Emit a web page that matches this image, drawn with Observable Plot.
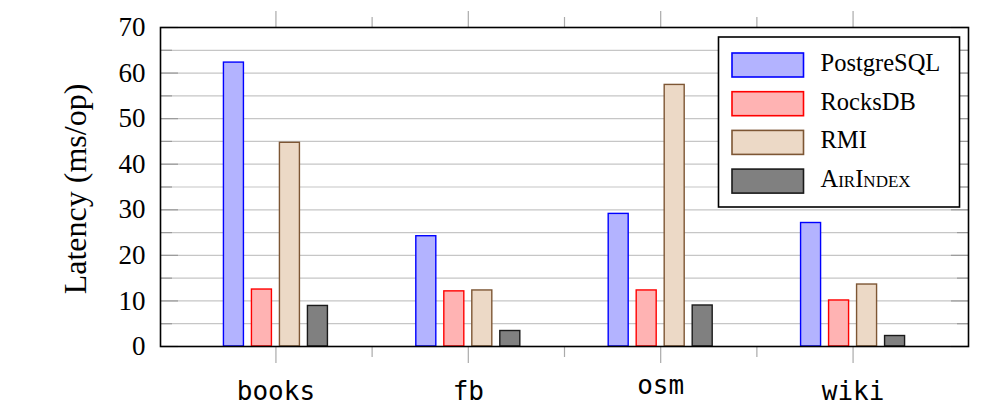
<!DOCTYPE html>
<html><head><meta charset="utf-8">
<script src="https://cdn.jsdelivr.net/npm/d3@7"></script>
<script src="https://cdn.jsdelivr.net/npm/@observablehq/plot@0.6"></script>
<style>body{margin:0;background:#fff}</style>
</head><body><div id="chart"></div>
<script>
const categories = ["books", "fb", "osm", "wiki"];
const series = ["PostgreSQL", "RocksDB", "RMI", "AirIndex"];
const postgres = [62.3, 24.2, 29.1, 27.1];
const rocksdb  = [12.5, 12.1, 12.3, 10.1];
const rmi      = [44.7, 12.3, 57.4, 13.6];
const airindex = [8.9, 3.4, 9.0, 2.3];
const yTicks = [0, 10, 20, 30, 40, 50, 60, 70];
const yMinor = [5, 15, 25, 35, 45, 55, 65];
const yLabel = "Latency (ms/op)";

const values = [postgres, rocksdb, rmi, airindex];
const fills = ["#b3b3ff", "#ffb3b3", "#ecd9c6", "#808080"];
const strokes = ["#0000ff", "#ff0000", "#7d5634", "#1a1a1a"];

const rows = categories.flatMap((c, i) => series.map((s, j) => ({category: c, ci: i + 1, series: s, sj: j, value: values[j][i]})));
const cats = categories.map((c, i) => ({category: c, ci: i + 1}));
const hasAscender = s => /[bdfhiklt]/.test(s);

const W = 994, H = 407, ML = 160, MR = 26, MT = 27, MB = 61;
const xDomain = [0.4, categories.length + 0.6];
const unit = (W - ML - MR) / (xDomain[1] - xDomain[0]);
const barW = 20 / unit, barStep = 28 / unit;
const xOf = d => d.ci + (d.sj - (series.length - 1) / 2) * barStep;
const mids = d3.range(1.5, categories.length, 1);
const gridVals = d3.range(5, 70, 5);
const serif = "'Liberation Serif', serif";
const mono = "'DejaVu Sans Mono', monospace";

const svg = Plot.plot({
  width: W, height: H,
  marginLeft: ML, marginRight: MR, marginTop: MT, marginBottom: MB,
  x: {domain: xDomain},
  y: {domain: [0, 70]},
  color: {type: "identity"},
  style: {background: "#fff", fontFamily: serif, overflow: "visible"},
  marks: [
    Plot.ruleY(gridVals, {stroke: "#c6c6c6", strokeWidth: 1.2}),
    Plot.axisY(yTicks, {anchor: "right", frameAnchor: "left", tickSize: 17, fill: "none", label: null, stroke: "#9a9a9a", strokeWidth: 1.2}),
    Plot.axisY(yMinor, {anchor: "right", frameAnchor: "left", tickSize: 11, fill: "none", label: null, stroke: "#9a9a9a", strokeWidth: 1.2}),
    Plot.axisY(yTicks, {anchor: "left", frameAnchor: "right", tickSize: 17, fill: "none", label: null, stroke: "#9a9a9a", strokeWidth: 1.2}),
    Plot.axisY(yMinor, {anchor: "left", frameAnchor: "right", tickSize: 11, fill: "none", label: null, stroke: "#9a9a9a", strokeWidth: 1.2}),
    Plot.axisX(cats.map(d => d.ci), {anchor: "top", tickSize: 17, fill: "none", label: null, stroke: "#aaaaaa", strokeWidth: 1.2}),
    Plot.axisX(mids, {anchor: "top", tickSize: 11, fill: "none", label: null, stroke: "#aaaaaa", strokeWidth: 1.2}),
    Plot.axisX(cats.map(d => d.ci), {anchor: "bottom", tickSize: 17, fill: "none", label: null, stroke: "#aaaaaa", strokeWidth: 1.2}),
    Plot.axisX(mids, {anchor: "bottom", tickSize: 11, fill: "none", label: null, stroke: "#aaaaaa", strokeWidth: 1.2}),
    Plot.rect(rows, {
      x1: d => xOf(d) - barW / 2, x2: d => xOf(d) + barW / 2,
      y1: 0, y2: "value",
      fill: d => fills[d.sj], stroke: d => strokes[d.sj], strokeWidth: 1.4
    }),
    Plot.frame({stroke: "#000", strokeWidth: 1.6}),
    Plot.axisY(yTicks, {anchor: "left", tickSize: 0, tickPadding: 15, fontSize: 27, fontFamily: serif, label: null, fill: "#000"}),
    Plot.text(cats.filter(d => hasAscender(d.category)), {x: "ci", text: "category", frameAnchor: "bottom", lineAnchor: "bottom", dy: 53, fontFamily: mono, fontSize: 26, fill: "#000"}),
    Plot.text(cats.filter(d => !hasAscender(d.category)), {x: "ci", text: "category", frameAnchor: "bottom", lineAnchor: "bottom", dy: 47, fontFamily: mono, fontSize: 26, fill: "#000"}),
    Plot.text([yLabel], {text: d => d, frameAnchor: "left", textAnchor: "middle", lineAnchor: "middle", dx: -85, dy: 2, rotate: -90, fontFamily: serif, fontSize: 32, fill: "#000"})
  ]
});

// legend box inside the plot area (top right)
const lg = d3.select(svg).append("g").attr("transform", "translate(718.5,37)");
lg.append("rect").attr("width", 241).attr("height", 170).attr("fill", "#fff").attr("stroke", "#000").attr("stroke-width", 1.6);
series.forEach((s, j) => {
  const g = lg.append("g").attr("transform", `translate(0,${16 + j * 38.7})`);
  g.append("rect").attr("x", 13.5).attr("width", 71.5).attr("height", 24)
    .attr("fill", fills[j]).attr("stroke", strokes[j]).attr("stroke-width", 1.6);
  g.append("text").attr("x", 102).attr("y", 18).attr("text-anchor", "start")
    .attr("font-family", serif).attr("font-size", 24.5)
    .attr("fill", "#000").style("font-variant", s === "AirIndex" ? "small-caps" : "normal").text(s);
});

document.getElementById("chart").appendChild(svg);
</script>
</body></html>
